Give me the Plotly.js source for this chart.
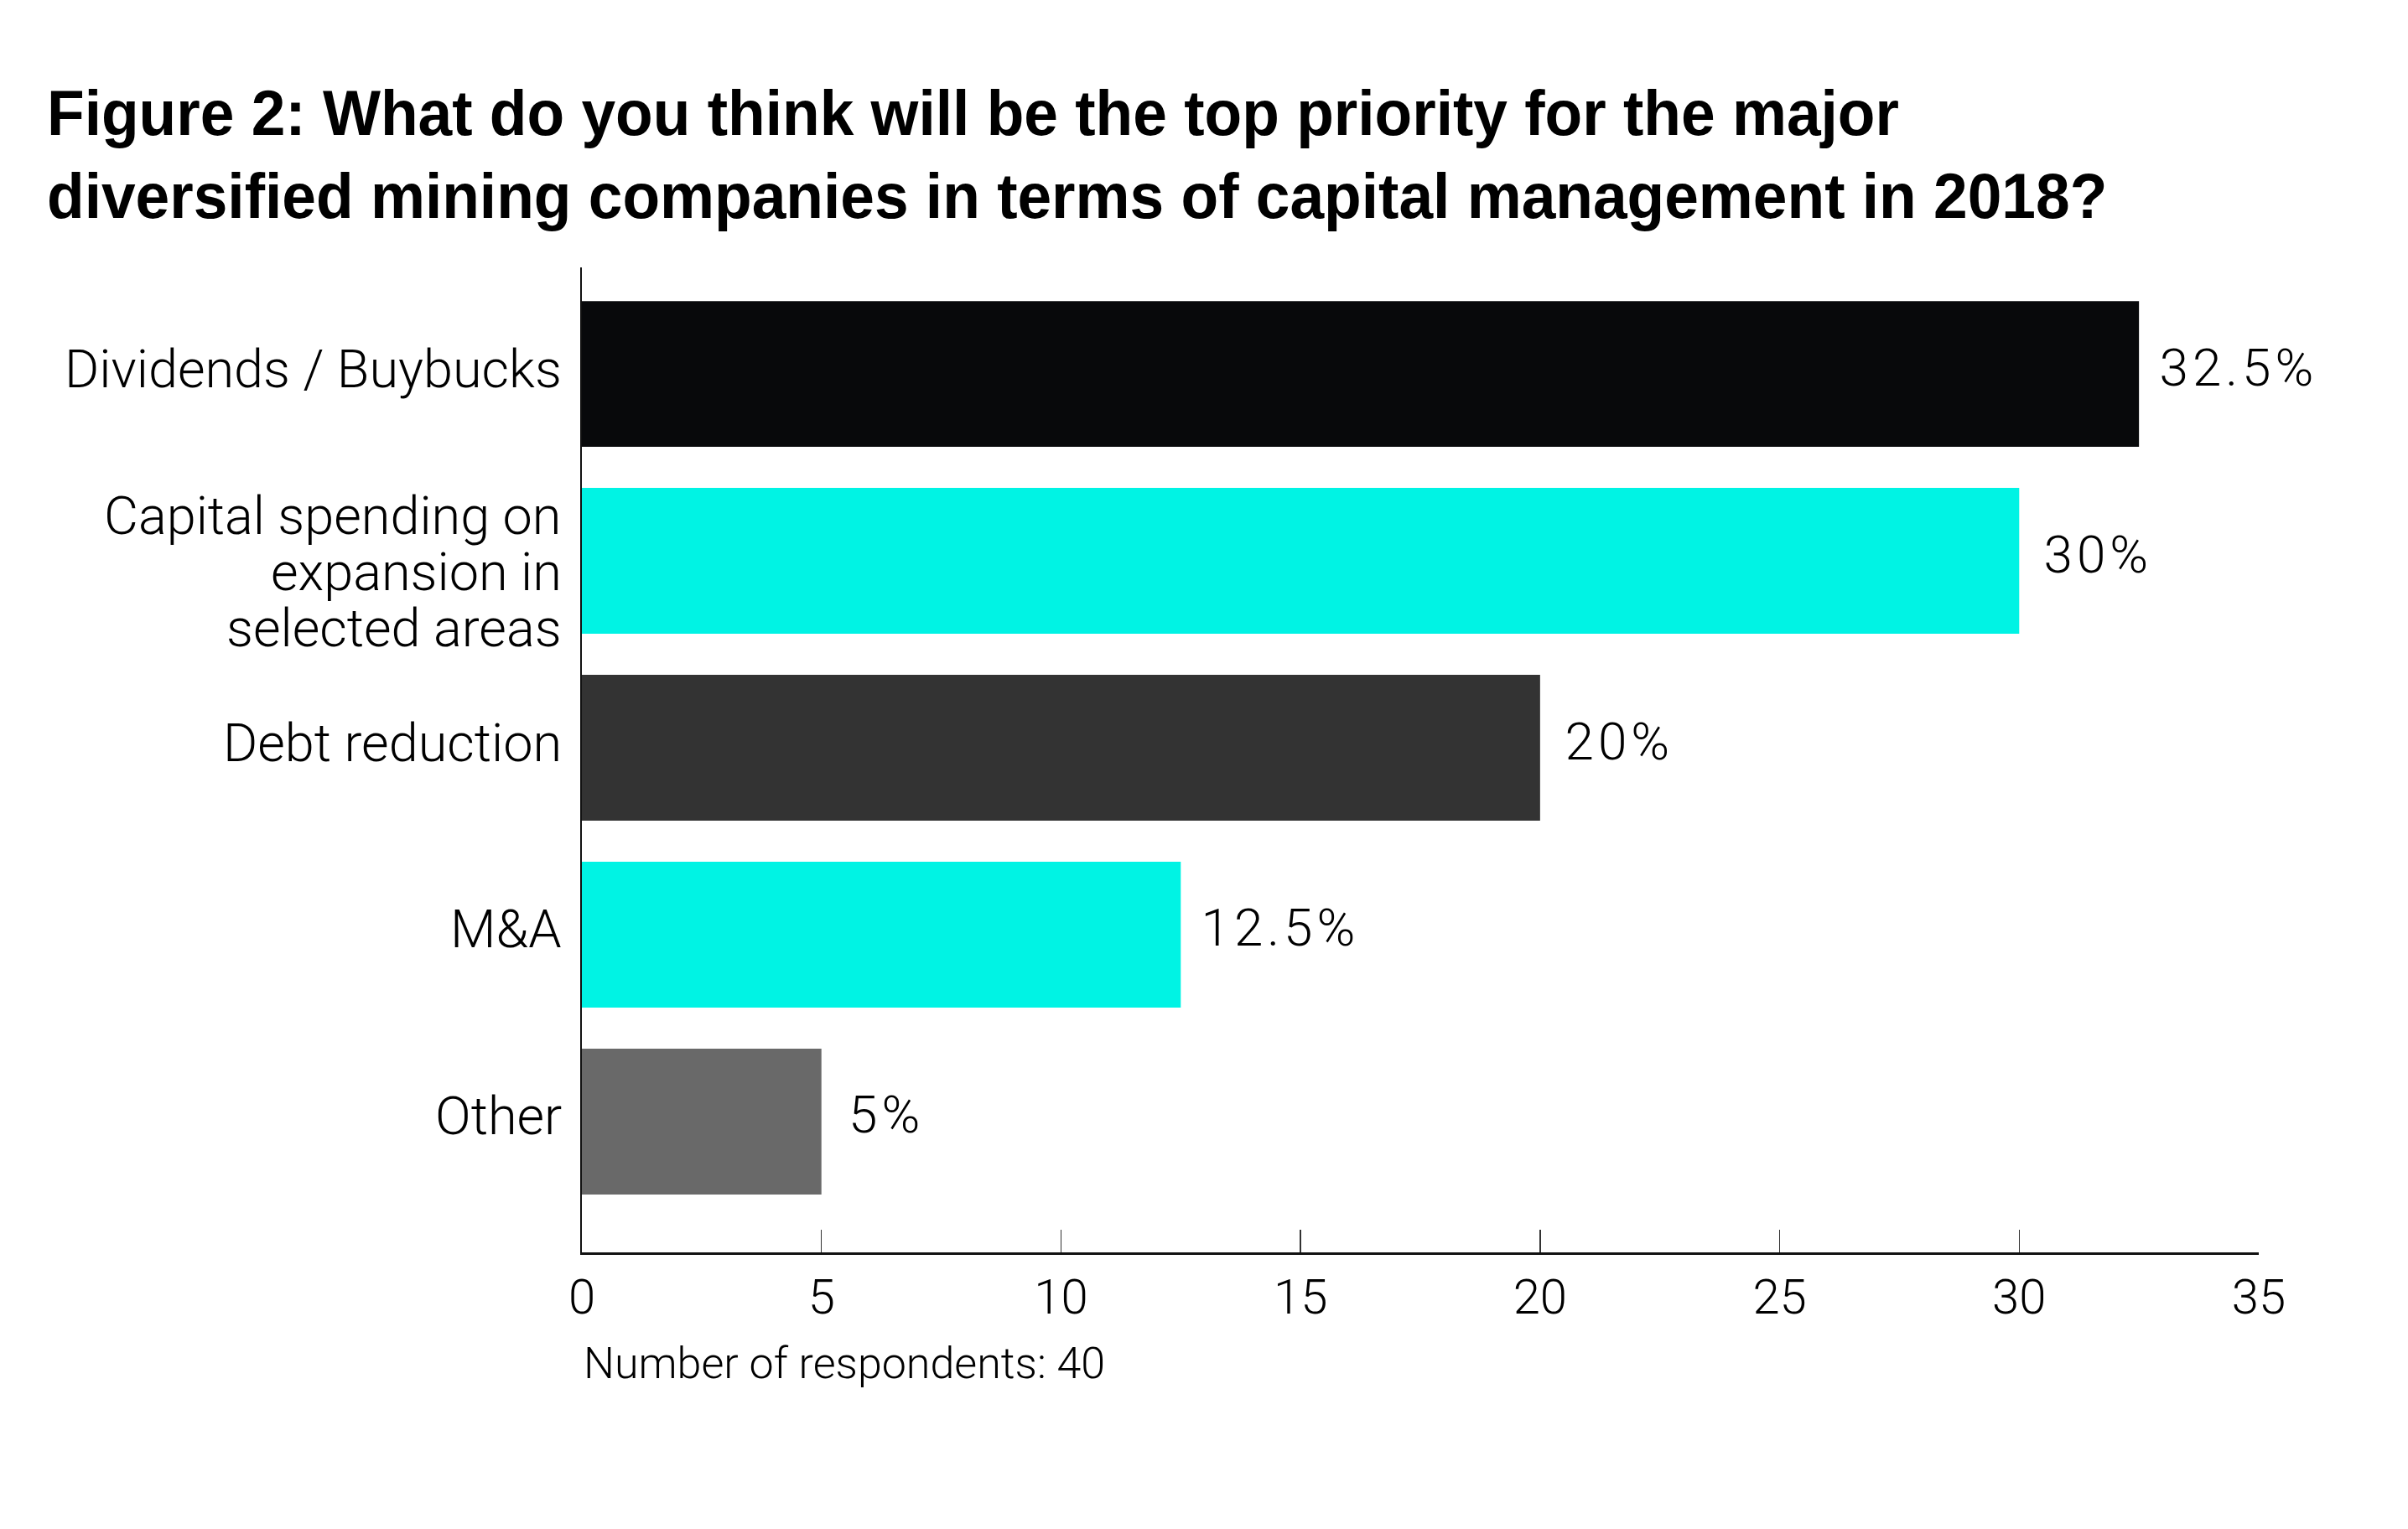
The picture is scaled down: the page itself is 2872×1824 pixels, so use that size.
<!DOCTYPE html>
<html>
<head>
<meta charset="utf-8">
<script src="https://cdn.plot.ly/plotly-3.0.1.min.js"></script>
<style>html,body{margin:0;padding:0;background:#fff;}#chart{width:2872px;height:1824px;}</style>
</head>
<body>
<div id="chart"></div>
<script>
const categories = ["Dividends / Buybucks", "Capital spending on<br>expansion in<br>selected areas", "Debt reduction", "M&A", "Other"];
const values = [32.5, 30, 20, 12.5, 5];
const valueLabels = ["32.5%", "30%", "20%", "12.5%", "5%"];
const barColors = ["#08090b", "#00f3e4", "#333333", "#00f3e4", "#696969"];
const xTicks = [0, 5, 10, 15, 20, 25, 30, 35];
const titleText = "Figure 2: What do you think will be the top priority for the major<br>diversified mining companies in terms of capital management in 2018?";
const noteText = "Number of respondents: 40";

const lightFont = {family: "Roboto, 'Liberation Sans', sans-serif", weight: 300, color: "#000"};
const catLineSpacing = 67;

const trace = {
  type: "bar",
  orientation: "h",
  y: categories,
  x: values,
  marker: {color: barColors, line: {width: 0}},
  hoverinfo: "none"
};

const annotations = [];
// value labels next to bar ends
values.forEach(function (v, i) {
  annotations.push({
    text: valueLabels[i],
    xref: "x", yref: "y",
    x: v, y: categories[i],
    xanchor: "left", yanchor: "middle",
    xshift: 35,
    yshift: 8,
    showarrow: false,
    font: Object.assign({}, lightFont, {size: 62})
  });
});
// category labels, one annotation per line for tight line spacing
categories.forEach(function (c) {
  const lines = c.split("<br>");
  const n = lines.length;
  const base = n > 1 ? -13 : 6;
  lines.forEach(function (ln, j) {
    annotations.push({
      text: ln,
      xref: "paper", yref: "y",
      x: 0, y: c,
      xanchor: "right", yanchor: "middle",
      xshift: -22,
      yshift: base + ((n - 1) / 2 - j) * catLineSpacing,
      showarrow: false,
      font: Object.assign({}, lightFont, {size: 63})
    });
  });
});
annotations.push({
  text: noteText,
  xref: "paper", yref: "paper",
  x: 0, y: 0,
  xanchor: "left", yanchor: "top",
  yshift: -100,
  showarrow: false,
  font: Object.assign({}, lightFont, {size: 52})
});

const layout = {
  width: 2872,
  height: 1824,
  margin: {l: 694, r: 178, t: 319, b: 330},
  paper_bgcolor: "#fff",
  plot_bgcolor: "#fff",
  showlegend: false,
  bargap: 0.22,
  title: {
    text: titleText,
    font: {family: "'Liberation Sans', Arial, sans-serif", size: 76, weight: 700, color: "#000"},
    x: 56 / 2872,
    xanchor: "left",
    xref: "container",
    y: 1 - 161 / 1824,
    yref: "container",
    yanchor: "top"
  },
  xaxis: {
    range: [0, 35],
    tickvals: xTicks,
    ticktext: xTicks.map(String),
    ticks: "inside",
    ticklen: 27,
    tickwidth: 1.5,
    tickcolor: "#333",
    showline: true,
    linecolor: "#111",
    linewidth: 3,
    showgrid: false,
    zeroline: false,
    tickfont: Object.assign({}, lightFont, {size: 58}),
    fixedrange: true
  },
  yaxis: {
    type: "category",
    range: [4.70, -0.57],
    autorange: false,
    ticks: "",
    showticklabels: false,
    showline: true,
    linecolor: "#111",
    linewidth: 2,
    showgrid: false,
    zeroline: false,
    fixedrange: true
  },
  annotations: annotations
};

Plotly.newPlot("chart", [trace], layout, {displayModeBar: false, staticPlot: true}).then(function (gd) {
  // condense the bold title horizontally, as in the reference
  const t = gd.querySelector(".g-gtitle text.gtitle");
  if (t) {
    const x0 = parseFloat(t.getAttribute("x")) || 0;
    t.setAttribute("transform", "translate(" + x0 + ",0) scale(0.962,1) translate(" + (-x0) + ",0)");
  }
  // wider tracking on the value labels
  gd.querySelectorAll(".annotation").forEach(function (a) {
    const idx = parseInt(a.getAttribute("data-index"), 10);
    if (idx < values.length) {
      const tx = a.querySelector("text");
      if (tx) tx.style.letterSpacing = "5px";
    }
  });
});
</script>
</body>
</html>
